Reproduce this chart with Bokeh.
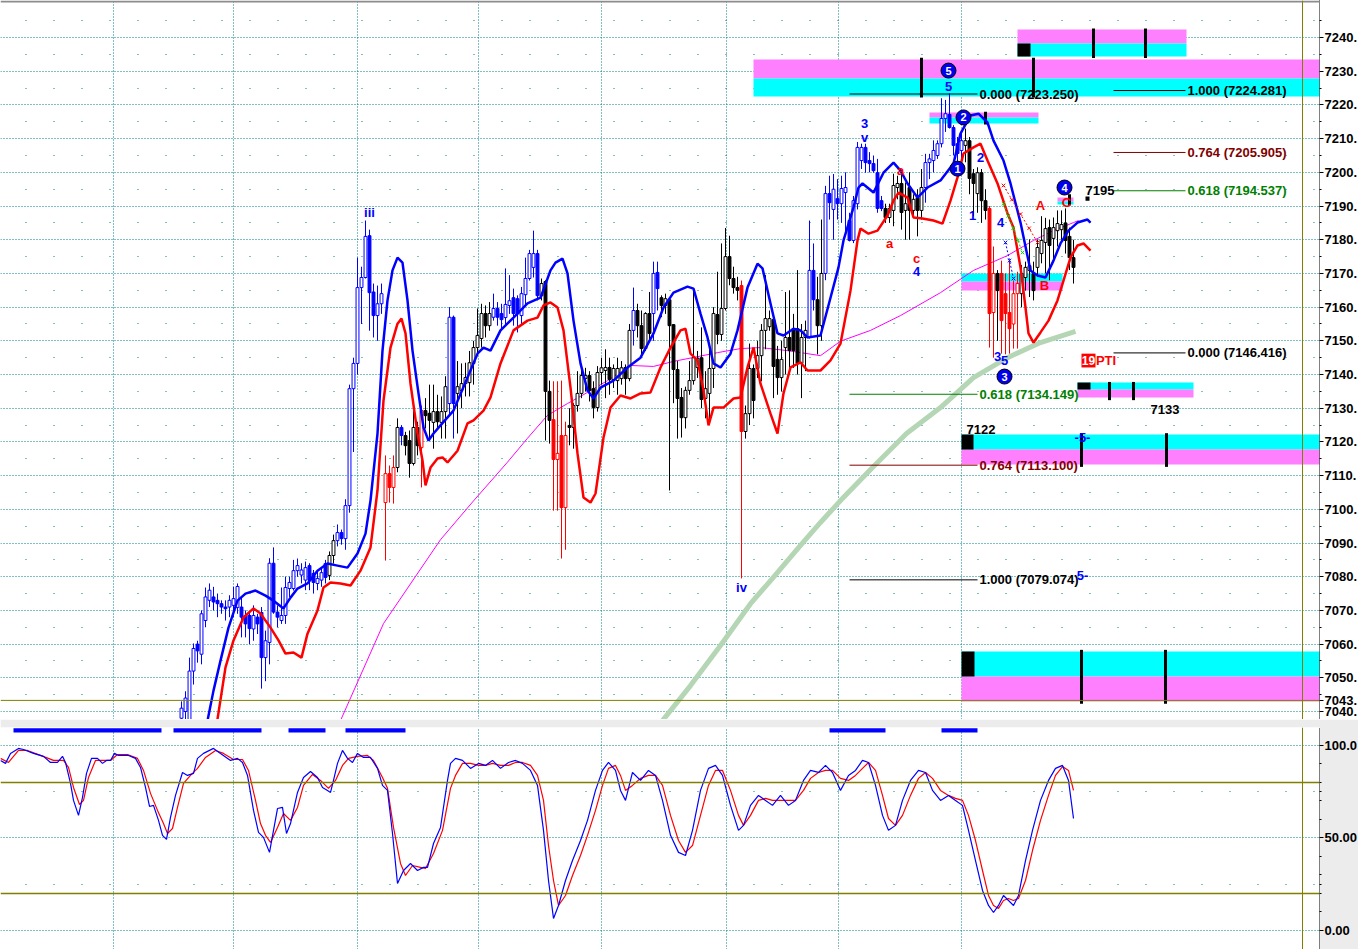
from bokeh.plotting import figure
from bokeh.models import Range1d, Span, FixedTicker, PrintfTickFormatter
from bokeh.layouts import column
from bokeh.embed import file_html
from bokeh.resources import INLINE
from bokeh.core.properties import value

FONT = value("Liberation Sans")

# ---------------- price bars (bar index starts at FIRST_BAR) ----------------
FIRST_BAR = 45
bar_open = [7038, 7040, 7037, 7052, 7060, 7057, 7067, 7073, 7074, 7073, 7072, 7071, 7071, 7071.5, 7070.9,
            7071, 7068.5, 7068.5, 7064.5, 7068, 7069.4, 7056, 7060.5, 7084, 7069.5, 7067, 7068.5, 7076.5, 7076.5,
            7081.8, 7080.5, 7079, 7083.3, 7081, 7078, 7079, 7083.9, 7080.4, 7086.3, 7090.7, 7093.1, 7091.3,
            7101.1, 7135.8, 7143.3, 7165.8, 7168.8, 7181.2, 7164.5, 7157.5, 7161,
            7102, 7110.6, 7106.5, 7112.4, 7124.3, 7121.9, 7120.4, 7113.6, 7124.3, 7118.3, 7129.3, 7128.5, 7125.8, 7129,
            7125.8, 7129, 7131.4, 7157, 7134.4, 7135.3, 7137.3, 7137.6, 7143.3, 7148, 7150.7, 7158.1, 7154.5,
            7157, 7159.6, 7158.1, 7156.9, 7160.5, 7162.8, 7162.5, 7157.5, 7163.7, 7168.5, 7171.8, 7175.9, 7163.4,
            7167.6, 7135, 7126.6, 7114.8, 7121.9, 7100.5, 7124.9, 7124.3, 7130.8, 7134.4, 7138.8, 7139.7, 7135.8,
            7130.2, 7140.6, 7141.2, 7142.1, 7138.5, 7138.2, 7138.8, 7142.1, 7138.8, 7153.1, 7159, 7154.5, 7147.7,
            7158.1, 7158.1, 7170.3, 7162.8, 7160.5, 7162.2, 7154.8, 7141.5, 7133.2, 7127.2, 7135.3, 7138.2, 7142.1,
            7145, 7132.9, 7134.4, 7141.8, 7157.8, 7151.9, 7159.6, 7175, 7168.5, 7165.8,
            7166.4, 7123.1, 7128.4, 7141.8, 7141.8, 7145.6, 7153.1, 7154.2, 7156.3, 7144.5, 7139.1, 7148, 7151,
            7153.6, 7153.6, 7143.3, 7151, 7151, 7170.9, 7162.2, 7154.5, 7170,
            7193.7, 7189, 7192.2, 7190.7, 7194, 7185.7,
            7179.8, 7190.7, 7203.5, 7207.4, 7203.5, 7202.6, 7199.9, 7191.6, 7189.3, 7186.6, 7188.7, 7195.5, 7196.7,
            7188.7, 7195.5, 7188.7, 7192.5, 7188.7, 7195.5, 7202.9, 7203.5, 7205, 7208.5, 7216, 7217.2, 7213.3,
            7208.5, 7206.5, 7208, 7209.4, 7199.6, 7193.7, 7199.9, 7191.6, 7189.3, 7158.4, 7170, 7170, 7164, 7158.4,
            7155, 7164, 7164, 7168.8, 7170.9, 7170, 7171.8, 7175.9, 7179.2, 7183.6, 7180.4, 7182.7,
            7183, 7185, 7181, 7174.7]
bar_high = [7043, 7046, 7056, 7060.2, 7061, 7070, 7076.8, 7078, 7077, 7075, 7073, 7073, 7074.5, 7077, 7078,
            7074, 7070, 7069.5, 7071.5, 7069, 7071, 7064, 7085.5, 7088.7, 7071.5, 7076.8, 7080, 7080, 7085,
            7085.4, 7084, 7084.5, 7084, 7082, 7082, 7082.7, 7085, 7087.5, 7092.5, 7095.5, 7094, 7103,
            7137, 7145, 7174.7, 7172, 7185.7, 7183, 7167, 7166.4, 7167,
            7116, 7113, 7116, 7127, 7125, 7123, 7123.4, 7130.8, 7126, 7130.8, 7133, 7137, 7137, 7134,
            7133.5, 7139.5, 7160, 7157.5, 7144, 7143.3, 7143.5, 7147, 7150, 7159.6, 7161, 7160.5, 7161.5,
            7164, 7161.5, 7161, 7171.5, 7169.5, 7165.5, 7163.5, 7166, 7174.7, 7177, 7182.7, 7177, 7168.5,
            7168, 7138.2, 7138, 7138, 7138.2, 7126, 7130, 7131.5, 7141, 7142, 7142, 7141, 7138,
            7142.5, 7145, 7147.5, 7145, 7143, 7145, 7144, 7143, 7155, 7165.8, 7161, 7159, 7158.5,
            7164.5, 7173.5, 7173.5, 7163.5, 7164, 7162.5, 7155, 7144, 7136, 7136.4, 7144, 7165, 7147,
            7154, 7141, 7148.6, 7160, 7170.5, 7178.9, 7183.5, 7181.2, 7172, 7169,
            7167.9, 7130.8, 7149.2, 7143, 7150, 7155, 7169.5, 7159, 7158, 7148.5, 7150, 7164.5, 7165,
            7158, 7171, 7155, 7156, 7185.7, 7178.9, 7169, 7186, 7196,
            7199, 7199.5, 7198, 7199, 7200, 7188,
            7193, 7209, 7208.5, 7208.5, 7206, 7205, 7204, 7193, 7190.7, 7190.7, 7199.6, 7199, 7200,
            7197, 7200, 7193.5, 7195, 7201, 7205.5, 7205.5, 7209.5, 7209.5, 7222, 7221.5, 7223.4, 7214,
            7210.5, 7212.4, 7213, 7210.5, 7201, 7201.5, 7201, 7195, 7190, 7178, 7171, 7173.8, 7170, 7173.8,
            7167.9, 7170.5, 7172.5, 7173.5, 7180.1, 7173.5, 7180.1, 7187, 7186.5, 7186, 7186.6, 7188.7,
            7188.7, 7189.3, 7183.6, 7180]
bar_low = [7035, 7036, 7035, 7048, 7054.5, 7054, 7065, 7071, 7070, 7068, 7069, 7067, 7068, 7068, 7069,
           7062, 7062, 7060, 7061, 7063, 7046.8, 7049, 7054, 7069, 7065, 7066, 7066, 7074, 7075.9,
           7080, 7078, 7076, 7076, 7075, 7076, 7077, 7078, 7079, 7083.9, 7089, 7089.5, 7088,
           7099, 7117, 7140, 7155, 7168.5, 7153, 7151, 7150, 7158,
           7084.8, 7102, 7101.7, 7111, 7119, 7116, 7109.4, 7113, 7116, 7106.5, 7124, 7121, 7118, 7124,
           7121, 7121, 7128, 7121, 7122.5, 7130, 7133.5, 7133.5, 7137, 7146, 7148, 7151, 7153,
           7156, 7154.5, 7153, 7155, 7158, 7154.5, 7152.5, 7154.5, 7160.5, 7167.9, 7168.8, 7162, 7162,
           7120.4, 7119.5, 7099.6, 7099.6, 7085.4, 7088, 7119, 7118, 7129, 7133, 7135, 7132, 7127,
           7129, 7137, 7133, 7134, 7136, 7134, 7137, 7134, 7138, 7148.6, 7151, 7146, 7147,
           7150, 7150, 7159, 7157, 7158, 7105.6, 7131.5, 7121, 7121.3, 7124, 7134, 7137, 7139,
           7130, 7127, 7126, 7136, 7149, 7150, 7159, 7166.5, 7164, 7162,
           7079.5, 7121, 7125, 7127, 7139, 7138, 7147.5, 7153, 7133, 7134, 7135, 7140, 7142,
           7142, 7140, 7133, 7141, 7150.7, 7159, 7146, 7150, 7168,
           7186, 7180, 7186, 7185, 7182, 7179.5,
           7179, 7189, 7201, 7199.9, 7200, 7199.9, 7188, 7188.5, 7185, 7185, 7184, 7192, 7183,
           7180, 7180, 7187, 7181, 7186, 7191, 7198, 7200, 7204, 7207.4, 7212, 7213, 7205,
           7202, 7203, 7203, 7193.5, 7187, 7188, 7185, 7186, 7148, 7145, 7150, 7146.2, 7146, 7146.2,
           7147.7, 7147.7, 7160, 7164.9, 7163, 7162, 7169, 7173, 7170, 7168, 7174, 7178,
           7180, 7175.9, 7171, 7167]
bar_close = [7041, 7044, 7052, 7058.7, 7058, 7069, 7074, 7076, 7072.5, 7072, 7071, 7070.5, 7073, 7073.5, 7077.1,
             7068, 7066, 7064.6, 7068.5, 7066, 7056, 7061, 7084, 7069.5, 7068, 7068.5, 7076.8, 7078.3, 7081.8,
             7083.3, 7082, 7082.7, 7078.9, 7078.3, 7079.5, 7081.2, 7079.8, 7086.3, 7090.7, 7093.1, 7091.3, 7101.1,
             7135.8, 7143.3, 7165.8, 7168.8, 7181, 7164.3, 7157.5, 7161, 7164,
             7110.6, 7106.5, 7112.4, 7124.3, 7121.9, 7118.9, 7113.6, 7124.3, 7118.9, 7129.3, 7127.8, 7126.4, 7129, 7126,
             7129, 7136.4, 7157, 7131.4, 7136.4, 7137.3, 7139.1, 7143.5, 7148, 7151.6, 7158.1, 7154.5, 7158.1,
             7159.6, 7157, 7156.3, 7160.8, 7161.9, 7158.1, 7158, 7164, 7168.5, 7175.9, 7175.9, 7163.4, 7167,
             7135, 7126.4, 7114.8, 7116.6, 7100.5, 7121.9, 7124.3, 7130.8, 7134.4, 7139.7, 7139.7, 7135.3, 7130.2,
             7140.6, 7142, 7142.1, 7138.5, 7141.8, 7141.8, 7142, 7138.8, 7153.1, 7159, 7154.5, 7147.7, 7158.1,
             7152.2, 7170, 7165.5, 7160.5, 7162.5, 7154.5, 7141.5, 7132.9, 7127.2, 7135.3, 7138.2, 7145, 7144.8,
             7132.6, 7135.8, 7141.8, 7158.1, 7151.9, 7159.6, 7175, 7168.5, 7165.8, 7165,
             7123.1, 7128.4, 7141.8, 7132.3, 7145.6, 7153.1, 7156.6, 7156.6, 7142.4, 7139.1, 7144.5, 7151, 7147.1,
             7147.1, 7143.3, 7151, 7153.1, 7170.9, 7162.2, 7154.5, 7170, 7193.7,
             7191, 7195, 7190.7, 7195.2, 7195.5, 7179.8,
             7191.6, 7207.4, 7207.4, 7202.9, 7202.6, 7200.5, 7189.3, 7189.3, 7186.6, 7189.3, 7196.1, 7196.7, 7188.1,
             7190.7, 7188.7, 7192, 7188.7, 7195.5, 7202.9, 7204, 7206.5, 7208.5, 7216, 7217.4, 7213.3, 7208,
             7205.6, 7209.4, 7209.4, 7198.2, 7196.7, 7199.9, 7191.6, 7188.7, 7158.1, 7170, 7164.9, 7156, 7158.1, 7153.6,
             7164, 7167, 7170, 7171.8, 7172.3, 7164.9, 7177.7, 7179.8, 7183.3, 7178.3, 7183.6, 7184.8,
             7184.5, 7179.8, 7174.7, 7171.8]
# b = blue bar, r = red bar, k = black bar
bar_tone = ("bbbbbbbbbbbbbbbbbbbbbbbbbbbbbbbbbbbbb" "kk" "bbbbbbbbbbbb" "rrr" "k" "b" "kkkk" "r" "kkkkkk"
            "bb" "kkkkkkkkk" "bbbbbbbbbbbb" "kkk" "rrrr" "kkkkkkkkkkkkkkkk" "b" "kkkk" "bb"
            "kkkkkkkkkkkkkkkkkkkk" "r" "kkkkkkkkkkkkkkkk" "bb" "kk" "bbbbbbbbbbbbbbb" "kkkkkkkkkk"
            "bbbbbbbbbb" "kkkkkk" "rr" "k" "rrrrr" "kkkkkkkkkkkkkk")

# ---------------- overlay lines (bar index, price) ----------------
blue_line = [(51.25, 7035.8), (53, 7046.2), (54.75, 7055.1), (56.75, 7064.9), (59, 7072.9), (61, 7075.0),
             (63.5, 7075.9), (66, 7074.4), (68, 7072.9), (70.5, 7070.6), (72.25, 7073.8), (74, 7076.5),
             (76.5, 7078.0), (79, 7081.8), (81.5, 7083.9), (84, 7083.3), (86.5, 7082.7), (89, 7086.9),
             (91, 7092.8), (92.25, 7102.6), (94, 7122.5), (95.25, 7147.1), (96.5, 7162.0), (97.75, 7170.9),
             (99, 7174.7), (100.25, 7173.2), (101.5, 7162.0), (102.75, 7147.1), (104.25, 7134.4),
             (105.5, 7124.3), (106.75, 7120.4), (108, 7122.5), (109.75, 7124.9), (113, 7129.3),
             (116.5, 7139.1), (119, 7146.2), (120.5, 7148.0), (122.25, 7147.1), (124.75, 7153.1),
             (128, 7156.9), (131.5, 7161.1), (134.75, 7162.8), (137.25, 7170.9), (138.5, 7173.2),
             (140.25, 7174.4), (141.5, 7170.0), (143, 7156.0), (144.75, 7143.3), (146.5, 7135.3),
             (148, 7132.9), (149.75, 7136.1), (153, 7138.2), (156.5, 7142.1), (159.75, 7145.0),
             (163, 7152.2), (165.5, 7159.9), (168, 7164.3), (171.5, 7166.1), (173, 7165.5), (174.75, 7158.1),
             (176.5, 7151.0), (178, 7143.3), (179.75, 7142.1), (182.25, 7146.2), (184, 7153.1),
             (186.5, 7165.8), (189, 7172.9), (190.25, 7171.5), (192.25, 7161.1), (194, 7152.2),
             (195.5, 7151.6), (198, 7153.6), (199.75, 7153.1), (201.5, 7151.0), (204.75, 7151.6),
             (207.25, 7162.8), (209.25, 7171.8), (210.5, 7179.8), (213, 7189.6), (214.25, 7195.5),
             (215.25, 7196.7), (218, 7194.0), (220.5, 7199.9), (223, 7202.9), (224.75, 7200.5),
             (226.5, 7196.7), (229, 7192.5), (231.5, 7195.5), (234.75, 7197.6), (238, 7202.6),
             (239.75, 7211.5), (242.25, 7216.9), (244.25, 7217.4), (246.5, 7214.8), (248, 7209.4),
             (250.5, 7203.5), (252.25, 7196.7), (254.75, 7185.1), (257.25, 7170.9), (259, 7169.4),
             (261, 7168.8), (263, 7173.8), (264.75, 7178.9), (266.75, 7182.7), (269, 7185.1),
             (271.5, 7186.0), (272.25, 7185.1)]
red_line = [(53.75, 7035.8), (56, 7053.1), (58, 7061.1), (60.5, 7067.9), (63, 7070.6), (64.75, 7069.1),
            (67.25, 7064.9), (69.25, 7061.1), (71, 7057.2), (73, 7057.5), (75, 7056.0), (76.5, 7063.1),
            (79, 7070.0), (80.5, 7076.8), (82.25, 7078.3), (84.75, 7078.0), (87.25, 7077.4), (89.75, 7081.8),
            (92.25, 7088.7), (94, 7105.6), (95.5, 7132.3), (97.25, 7148.0), (99, 7155.1), (100, 7156.6),
            (101, 7152.2), (102.25, 7137.3), (104, 7122.5), (105.25, 7114.5), (106, 7107.1), (107.25, 7112.4),
            (109, 7115.1), (110.25, 7115.4), (111.5, 7113.9), (114, 7117.4), (116.5, 7125.5), (118, 7126.4),
            (120.5, 7129.3), (122.25, 7133.2), (124.75, 7143.3), (128, 7153.1), (131.5, 7156.0),
            (134, 7156.9), (135.5, 7160.5), (137.25, 7161.4), (139, 7159.9), (140.5, 7153.1),
            (142.25, 7136.1), (144, 7116.6), (145.5, 7103.5), (147.25, 7102.0), (148.5, 7104.7),
            (150.5, 7121.3), (152.25, 7130.2), (154.75, 7133.8), (157.25, 7132.9), (159.75, 7134.4),
            (162.25, 7134.7), (164.75, 7142.1), (167.25, 7148.0), (169.75, 7153.1), (171, 7153.6),
            (172.25, 7146.2), (174, 7144.2), (175.5, 7135.3), (176.75, 7124.9), (178, 7130.2),
            (180.5, 7130.2), (183, 7132.9), (184.75, 7133.2), (186.5, 7142.1), (188, 7148.0),
            (189.75, 7137.3), (192.25, 7128.4), (194, 7122.5), (195.5, 7134.4), (197.25, 7142.1),
            (199.75, 7143.6), (201.5, 7141.2), (204.75, 7141.2), (207.25, 7144.2), (209.75, 7149.2),
            (212.25, 7164.9), (214, 7179.8), (214.75, 7183.3), (216.75, 7181.8), (219, 7182.7),
            (221.5, 7187.2), (223, 7191.6), (224.25, 7194.0), (226.5, 7192.5), (228, 7186.6),
            (230.25, 7186.3), (233, 7185.7), (235.25, 7184.8), (237.25, 7191.6), (239, 7198.5),
            (240.5, 7205.6), (243, 7207.4), (244.75, 7208.5), (246.5, 7203.5), (249, 7196.7),
            (251.5, 7187.8), (253, 7183.6), (254.75, 7171.8), (256, 7159.9), (256.75, 7152.2),
            (258, 7149.5), (259.75, 7152.5), (261.75, 7156.0), (264, 7162.0), (265.5, 7167.9),
            (267.25, 7174.7), (269, 7178.3), (270.5, 7178.9), (272.25, 7176.8)]
magenta_line = [(84.75, 7037.3), (95.5, 7066.1), (109.75, 7091.0), (118, 7102.5), (126.5, 7114.0),
                (131.5, 7121.1), (136.5, 7127.9), (141.5, 7131.4), (146.5, 7134.7), (151.5, 7138.2),
                (157.25, 7142.7), (163, 7142.4), (168, 7143.9), (174, 7145.3), (179, 7146.5),
                (184.75, 7147.7), (189.75, 7148.0), (196.5, 7147.1), (204.75, 7145.6), (209.75, 7149.9),
                (217.25, 7153.1), (224.75, 7157.5), (234.75, 7164.3), (243, 7170.9), (251.5, 7175.3),
                (258, 7179.8), (263, 7182.7), (268, 7185.1), (269.25, 7185.7)]
green_line = [(165.25, 7037.3), (172.25, 7047.7), (179.75, 7059.6), (187.25, 7072.0), (192.75, 7079.5),
              (199.75, 7089.3), (204.75, 7096.1), (209.75, 7102.6), (217.75, 7112.4), (226.25, 7122.5),
              (234.75, 7130.2), (243, 7139.1), (251.5, 7145.0), (259.75, 7149.5), (268.5, 7152.8)]

# ---------------- stochastic (bar index, value) ----------------
stoch_k = [(-0.25, 91.9), (1, 90.3), (2.25, 95.7), (4.25, 98.4), (5.5, 97.8), (8, 95.7), (10.5, 94.1),
           (12.25, 90.8), (14, 90.8), (15.25, 94.1), (16, 90.8), (17.25, 79.5), (18, 70.3), (19.25, 62.2),
           (20.25, 71.9), (21.25, 84.9), (22.5, 93.0), (24, 93.0), (25.25, 90.3), (26.25, 91.9), (27.25, 91.9),
           (28.25, 95.7), (29.25, 94.6), (31.75, 94.6), (33.5, 93.0), (34.75, 88.1), (36, 77.3), (37, 67.0),
           (38, 67.6), (39.25, 59.5), (40.25, 51.4), (41.25, 49.2), (42.25, 61.1), (43.5, 73.0), (45.25, 85.4),
           (46.5, 83.8), (48, 84.9), (49, 93.0), (50.5, 95.7), (53, 98.4), (54.75, 95.7), (57.25, 91.9),
           (59, 93.0), (60.25, 90.8), (61.5, 83.8), (63, 64.9), (64.25, 53.0), (65.5, 50.3), (67, 42.2),
           (68, 54.1), (69, 65.9), (70.25, 66.5), (71.25, 52.4), (72.25, 57.8), (74, 74.6), (75.5, 82.7),
           (77.25, 85.9), (79, 82.7), (80.25, 77.3), (81.5, 75.7), (82.25, 74.6), (83, 81.1), (84, 90.3),
           (85.25, 97.3), (86.5, 93.0), (87.75, 90.8), (89, 95.7), (90.5, 93.5), (92.25, 93.5), (94, 87.6),
           (95.25, 78.4), (96.5, 75.7), (97.75, 52.4), (99, 25.4), (100.5, 32.4), (102.25, 36.2), (104, 32.4),
           (105.5, 34.1), (106.5, 34.1), (108, 47.0), (109.75, 55.7), (111.5, 81.1), (112.25, 90.3),
           (113.5, 93.0), (115.25, 91.9), (117.25, 87.6), (119.25, 90.3), (121, 89.2), (122.75, 91.9),
           (124.75, 87.6), (126.75, 90.8), (128.5, 91.9), (130.25, 90.3), (132.25, 86.5), (134, 78.4),
           (135.5, 54.1), (136.75, 27.0), (138, 6.5), (139.25, 13.5), (141, 27.0), (142.75, 37.8),
           (144.75, 48.6), (146.5, 59.5), (148.5, 75.7), (150.25, 86.5), (151.75, 90.8), (153.5, 86.5),
           (154.75, 75.7), (156, 70.3), (157.75, 85.4), (159.75, 81.1), (161.75, 86.5), (163.5, 83.8),
           (165.25, 70.3), (167.25, 51.4), (169.25, 42.2), (171, 40.5), (172.75, 54.1), (174.75, 75.7),
           (176.75, 87.6), (178.5, 89.2), (180.25, 83.8), (182.25, 67.6), (184.25, 54.1), (185.5, 56.8),
           (187.25, 67.6), (189.25, 73.0), (191, 70.3), (192.75, 67.6), (194.75, 73.0), (196.75, 67.6),
           (198.5, 70.3), (200.5, 81.1), (202.25, 86.5), (204.25, 85.4), (206, 89.2), (207.75, 85.4),
           (209.75, 75.7), (211.75, 83.8), (213.5, 86.5), (215.25, 91.9), (216.75, 90.8), (218.5, 78.4),
           (220.25, 62.2), (221.75, 54.1), (223.5, 56.8), (225.25, 70.3), (227.25, 81.1), (229.25, 86.5),
           (231, 85.4), (232.75, 75.7), (234.75, 70.3), (236.75, 73.0), (238.5, 70.3), (240.25, 67.6),
           (241.75, 54.1), (243.5, 37.8), (245.25, 21.6), (246.75, 13.5), (248, 9.7), (249.25, 13.5),
           (250.5, 18.9), (251.75, 16.2), (253, 13.5), (254.25, 18.9), (256, 37.8), (257.75, 54.1),
           (259.75, 70.3), (261.75, 81.1), (263.5, 87.6), (265.25, 89.2), (266.75, 81.1), (268, 60.5)]
stoch_d = [(-0.25, 93.0), (1.75, 90.8), (4.25, 97.3), (6.5, 97.3), (9.75, 94.6), (13, 91.9), (15.5, 91.9),
           (16.75, 88.1), (18, 77.3), (19.5, 68.1), (20.5, 70.3), (21.75, 82.7), (23.5, 91.9), (25.5, 91.9),
           (27.25, 91.9), (29, 95.1), (31.5, 95.1), (34, 93.0), (35.5, 86.5), (37.25, 74.1), (39, 64.9),
           (40.5, 57.8), (41.5, 52.4), (42.75, 55.1), (44, 66.5), (45.5, 79.5), (47.25, 83.8), (49, 87.6),
           (51, 93.5), (53.5, 97.3), (55.5, 95.7), (58, 92.4), (60.25, 92.4), (61.75, 86.5), (63.5, 70.3),
           (64.75, 57.8), (66, 51.4), (67.25, 47.6), (69, 55.7), (70.5, 63.2), (72.25, 59.5), (74, 66.5),
           (75.5, 78.4), (77.75, 84.3), (79.75, 81.1), (81.75, 76.8), (83.5, 81.1), (85.25, 89.2),
           (86.75, 93.0), (89, 94.1), (91.5, 94.6), (93, 91.9), (95.25, 82.7), (96.5, 76.8), (98, 55.7),
           (99.75, 36.2), (101, 29.7), (102.75, 35.1), (104.75, 34.1), (106, 33.5), (108, 41.6),
           (110.25, 54.1), (112.25, 76.8), (113.5, 83.8), (115.25, 90.3), (117.25, 90.3), (119.25, 89.2),
           (121, 89.2), (122.75, 90.3), (124.75, 89.2), (126.75, 89.2), (128.5, 90.8), (130.25, 90.8),
           (132.25, 89.2), (134, 83.8), (135.5, 70.3), (136.75, 45.9), (138, 27.0), (139.25, 13.5),
           (141, 18.9), (142.75, 29.7), (144.75, 40.5), (146.5, 51.4), (148.5, 64.9), (150.25, 78.4),
           (151.75, 87.6), (153.5, 89.2), (154.75, 83.8), (156, 75.7), (157.75, 78.4), (159.75, 82.2),
           (161.75, 83.8), (163.5, 83.8), (165.25, 78.4), (167.25, 62.2), (169.25, 48.6), (171, 42.2),
           (172.75, 45.9), (174.75, 62.2), (176.75, 78.4), (178.5, 86.5), (180.25, 86.5), (182.25, 75.7),
           (184.25, 62.2), (185.5, 56.8), (187.25, 62.2), (189.25, 70.3), (191, 71.4), (192.75, 70.3),
           (194.75, 70.3), (196.75, 70.3), (198.5, 70.3), (200.5, 75.7), (202.25, 82.2), (204.25, 85.4),
           (206, 86.5), (207.75, 86.5), (209.75, 82.2), (211.75, 81.1), (213.5, 83.8), (215.25, 87.6),
           (216.75, 90.8), (218.5, 86.5), (220.25, 73.0), (221.75, 60.5), (223.5, 56.8), (225.25, 62.2),
           (227.25, 73.0), (229.25, 82.2), (231, 85.4), (232.75, 82.2), (234.75, 75.7), (236.75, 73.0),
           (238.5, 71.4), (240.25, 70.3), (241.75, 62.2), (243.5, 48.6), (245.25, 32.4), (246.75, 18.9),
           (248, 13.5), (249.25, 11.9), (250.5, 16.2), (251.75, 17.3), (253, 16.2), (254.25, 17.3),
           (256, 27.0), (257.75, 43.2), (259.75, 59.5), (261.75, 73.0), (263.5, 83.8), (265.25, 88.6),
           (266.75, 86.5), (268, 75.7)]
stoch_levels = [80, 20]
signal_strips = [(3, 40), (43, 65), (71.75, 81), (86, 101), (207, 221), (235, 244)]

# ---------------- zones, fib levels, labels ----------------
zone_left = [188, 254, 232, 264, 240, 269, 240, 240]
zone_right = [330, 296.25, 259.25, 268, 265.25, 298, 330, 330]
zone_top = [7233.47, 7242.37, 7217.74, 7192.52, 7169.97, 7137.63, 7122.2, 7057.8]
zone_mid = [7227.83, 7238.22, 7216.26, 7191.34, 7167.6, 7135.55, 7117.74, 7050.39]
zone_bottom = [7222.49, 7234.36, 7214.48, 7190.45, 7164.93, 7133.18, 7113.29, 7042.97]
zone_upper_is_pink = [True, True, True, True, False, False, False, False]
block_left = [254, 269, 240, 240, 271]
block_right = [257.25, 272.25, 243, 243.25, 272]
block_top = [7238.22, 7137.63, 7122.2, 7057.8, 7192.8]
block_bottom = [7234.36, 7135.55, 7117.74, 7050.39, 7191.6]
stake_x = [230, 258, 273, 286, 246, 267, 277, 283, 270, 291.25, 270, 291]
stake_top = [7234.0, 7234.0, 7242.7, 7242.7, 7218.0, 7193.5, 7137.8, 7137.8, 7122.6, 7122.6, 7058.3, 7058.3]
stake_bottom = [7222.2, 7222.2, 7233.9, 7233.9, 7214.2, 7190.2, 7132.4, 7132.4, 7112.6, 7112.6, 7042.3, 7042.3]

fib_x0 = [212, 278, 278, 278, 278, 212, 212, 212]
fib_x1 = [244, 296, 296, 296, 296, 244, 244, 244]
fib_price = [7223.250, 7224.281, 7205.905, 7194.537, 7146.416, 7134.149, 7113.100, 7079.074]
fib_ratio = ["0.000", "1.000", "0.764", "0.618", "0.000", "0.618", "0.764", "1.000"]
fib_color = ["#000000", "#000000", "#800000", "#008000", "#000000", "#008000", "#800000", "#000000"]

wave_x = [92, 215.75, 215.75, 236.75, 224.75, 222, 228.75, 228.75, 244.75, 242.75, 249.75, 259.75,
          260.75, 266.25, 249, 250.75, 185, 270.25, 270.25]
wave_y = [7188.1, 7214.5, 7210.3, 7225.5, 7200.5, 7178.9, 7174.4, 7170.6, 7204.4, 7187.2, 7185.1, 7190.1,
          7166.4, 7191.0, 7145.3, 7144.2, 7076.8, 7121.3, 7080.4]
wave_text = ["iii", "3", "v", "5", "a", "a", "c", "4", "2", "1", "4", "A", "B", "C", "3", "5", "iv", "-5-", "5-"]
wave_color = ["#0000ff", "#0000ff", "#0000ff", "#0000ff", "#ff0000", "#ff0000", "#ff0000", "#0000ff",
              "#0000ff", "#0000ff", "#0000ff", "#ff0000", "#ff0000", "#ff0000", "#0000ff", "#0000ff",
              "#0000ff", "#0000ff", "#0000ff"]
circle_x = [236.75, 240.5, 239, 265.75, 250.75]
circle_y = [7230.2, 7216.3, 7201.1, 7195.5, 7139.4]
circle_text = ["5", "2", "1", "4", "3"]
price_note_x = [241.25, 287.25, 271]
price_note_y = [7123.6, 7129.6, 7194.7]
price_note_text = ["7122", "7133", "7195"]
proj_red = [(250.5, 7196.1), (252.6, 7191.9), (254.75, 7187.6), (256.9, 7183.4), (259, 7179.2)]
proj_green = [(250.5, 7190.7), (251.7, 7187.1), (252.9, 7183.4), (254.1, 7179.8), (255.25, 7176.2)]
proj_blue = [(251, 7179.2), (252, 7173.8), (253, 7168.5)]
last_price = 7043.3
right_edge_bar = 325.25
vgrid_bars = [28, 58, 89, 119.25, 150, 181.25, 209.25, 240]

BLUE, RED, BLACK = "#0000ff", "#ff0000", "#000000"
PINK, CYAN = "#ff80ff", "#00ffff"
TEAL, OLIVE = "#008080", "#808000"

X_RANGE = (-0.25, 329.5)
FRAME_W = 1319
AXIS_W = 39


def style_axis(ax):
    ax.major_label_text_font = "Liberation Sans"
    ax.major_label_text_font_style = "bold"
    ax.major_label_text_font_size = "13px"
    ax.major_label_text_color = "black"
    ax.major_label_standoff = 1
    ax.major_tick_out = 4
    ax.major_tick_in = 0
    ax.minor_tick_out = 2
    ax.minor_tick_in = 0
    ax.axis_line_dash = "1 1"
    ax.axis_line_color = "black"


def style_grid(p, yticker):
    p.ygrid.ticker = yticker
    p.ygrid.grid_line_color = TEAL
    p.ygrid.grid_line_dash = "1 2"
    p.ygrid.minor_grid_line_color = TEAL
    p.ygrid.minor_grid_line_dash = "1 27"
    p.ygrid.minor_grid_line_dash_offset = 3
    p.xgrid.ticker = FixedTicker(ticks=vgrid_bars)
    p.xgrid.grid_line_color = TEAL
    p.xgrid.grid_line_dash = "1 2"


# ================= main price panel =================
p1 = figure(frame_width=FRAME_W, frame_height=719, x_range=Range1d(*X_RANGE), y_range=Range1d(7037.63, 7251.0),
            output_backend="svg", toolbar_location=None, y_axis_location="right", title=None,
            min_border_left=0, min_border_top=0, min_border_bottom=0, min_border_right=AXIS_W)
p1.xaxis.visible = False
p1.outline_line_color = None
p1.background_fill_color = "white"
p1.border_fill_color = "white"

major_prices = list(range(7040, 7250, 10))
minor_prices = list(range(7045, 7250, 10))
p1.yaxis.ticker = FixedTicker(ticks=major_prices + [last_price], minor_ticks=minor_prices)
p1.yaxis.formatter = PrintfTickFormatter(format="%.0f.")
style_axis(p1.yaxis[0])
style_grid(p1, FixedTicker(ticks=major_prices, minor_ticks=minor_prices))
p1.add_layout(Span(location=7250.7, dimension="width", line_color="#8c8c8c", line_width=2))

# zones
upper_col = [PINK if f else CYAN for f in zone_upper_is_pink]
lower_col = [CYAN if f else PINK for f in zone_upper_is_pink]
p1.quad(left=zone_left, right=zone_right, top=zone_top, bottom=zone_mid, fill_color=upper_col, line_color=None)
p1.quad(left=zone_left, right=zone_right, top=zone_mid, bottom=zone_bottom, fill_color=lower_col, line_color=None)
p1.quad(left=block_left, right=block_right, top=block_top, bottom=block_bottom, fill_color=BLACK, line_color=None)
p1.segment(x0=stake_x, y0=stake_bottom, x1=stake_x, y1=stake_top, line_color=BLACK, line_width=3)

p1.add_layout(Span(location=last_price, dimension="width", line_color=OLIVE, line_width=1))
p1.add_layout(Span(location=right_edge_bar, dimension="height", line_color=OLIVE, line_width=1))

# moving averages
p1.line([a for a, b in green_line], [b for a, b in green_line], line_color="#b4d6b4", line_width=5)
p1.line([a for a, b in magenta_line], [b for a, b in magenta_line], line_color="#ff00ff", line_width=1)

# candles
idx = [FIRST_BAR + k for k in range(len(bar_open))]
tone_map = {"b": BLUE, "r": RED, "k": BLACK}
cols = [tone_map[t] for t in bar_tone]
tops, bots, fills = [], [], []
for o, c, col in zip(bar_open, bar_close, cols):
    t, b = max(o, c), min(o, c)
    if t - b < 0.35:
        m = (t + b) / 2
        t, b = m + 0.18, m - 0.18
    tops.append(t)
    bots.append(b)
    fills.append(col if c < o else "white")
p1.segment(x0=idx, y0=bar_low, x1=idx, y1=bar_high, line_color=cols, line_width=1)
p1.vbar(x=idx, top=tops, bottom=bots, width=0.72, fill_color=fills, line_color=cols, line_width=1)

# blue / red bands
p1.line([a for a, b in red_line], [b for a, b in red_line], line_color=RED, line_width=2.5)
p1.line([a for a, b in blue_line], [b for a, b in blue_line], line_color=BLUE, line_width=2.5)

# projection helpers
for pts, colr in [(proj_red, RED), (proj_green, "#00dd00"), (proj_blue, BLUE)]:
    xs = [a for a, b in pts]
    ys = [b for a, b in pts]
    p1.line(xs, ys, line_color=colr, line_width=1, line_dash="2 2")
    p1.scatter(xs, ys, marker="x", size=5, line_color=colr, line_width=1)

# fib lines & texts
p1.segment(x0=fib_x0, y0=fib_price, x1=fib_x1, y1=fib_price, line_color=fib_color, line_width=1)
fib_labels = [f"{r} ({v:.3f})" for r, v in zip(fib_ratio, fib_price)]
p1.text(x=[x + 0.5 for x in fib_x1], y=fib_price, text=fib_labels, text_color=fib_color,
        text_font=FONT, text_font_style="bold", text_font_size="13px", text_baseline="alphabetic",
        text_align="left")

# notes
p1.text(x=price_note_x, y=price_note_y, text=price_note_text, text_color=BLACK, text_font=FONT,
        text_font_style="bold", text_font_size="13px", text_baseline="alphabetic", text_align="left")
p1.text(x=wave_x, y=wave_y, text=wave_text, text_color=wave_color, text_font=FONT,
        text_font_style="bold", text_font_size="13px", text_baseline="middle", text_align="center")
p1.scatter(circle_x, circle_y, marker="circle", size=15, fill_color="#0000ee", line_color=BLACK, line_width=1)
p1.text(x=circle_x, y=circle_y, text=circle_text, text_color="white", text_font=FONT,
        text_font_style="bold", text_font_size="11px", text_baseline="middle", text_align="center")
p1.quad(left=[270], right=[273.5], top=[7146.2], bottom=[7142.1], fill_color=RED, line_color=None)
p1.text(x=[271.75], y=[7144.15], text=["19"], text_color="white", text_font=FONT, text_font_style="bold",
        text_font_size="12px", text_baseline="middle", text_align="center")
p1.text(x=[273.6], y=[7144.15], text=["PTI"], text_color=RED, text_font=FONT, text_font_style="bold",
        text_font_size="13px", text_baseline="middle", text_align="left")

# ================= stochastic panel (its 8px top border is the grey separator) =================
p2 = figure(frame_width=FRAME_W, frame_height=222, x_range=p1.x_range, y_range=Range1d(-10.3, 109.7),
            output_backend="svg", toolbar_location=None, y_axis_location="right", title=None,
            min_border_left=0, min_border_top=8, min_border_bottom=0, min_border_right=AXIS_W)
p2.xaxis.visible = False
p2.outline_line_color = None
p2.background_fill_color = "white"
p2.border_fill_color = "#ececec"
p2.yaxis.ticker = FixedTicker(ticks=[0, 50, 100], minor_ticks=[10, 20, 25, 30, 40, 60, 70, 75, 80, 90])
p2.yaxis.major_label_overrides = {0: "0.00", 50: "50.00", 100: "100.0"}
style_axis(p2.yaxis[0])
style_grid(p2, FixedTicker(ticks=[0, 50, 100], minor_ticks=[25, 75]))

for lvl in stoch_levels:
    p2.add_layout(Span(location=lvl, dimension="width", line_color=OLIVE, line_width=1.5))
p2.add_layout(Span(location=right_edge_bar, dimension="height", line_color=OLIVE, line_width=1))
p2.quad(left=[a for a, b in signal_strips], right=[b for a, b in signal_strips],
        top=[109.3] * len(signal_strips), bottom=[107.0] * len(signal_strips), fill_color=BLUE, line_color=None)
p2.line([a for a, b in stoch_d], [b for a, b in stoch_d], line_color=RED, line_width=1.2)
p2.line([a for a, b in stoch_k], [b for a, b in stoch_k], line_color=BLUE, line_width=1.2)

layout = column(p1, p2, spacing=0)
open("out.html", "w").write(file_html(layout, INLINE))
